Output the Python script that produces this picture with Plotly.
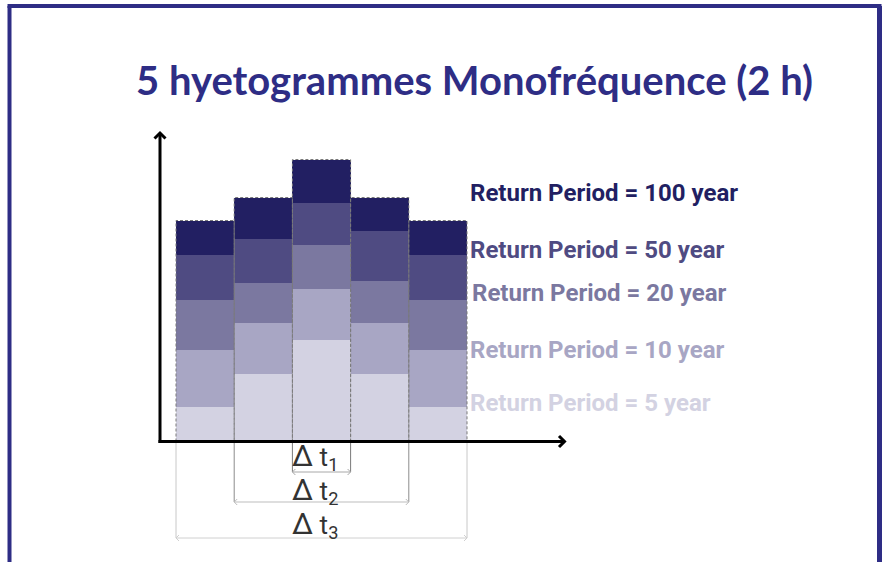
import plotly.graph_objects as go

# ---- data: rainfall depth per time step, one layer per return period ----
steps = [0, 1, 2, 3, 4]
periods = ["5", "10", "20", "50", "100"]
depth_5 = [3.5, 6.8, 10.2, 6.8, 3.5]
depth_10 = [5.7, 5.1, 5.1, 5.1, 5.7]
depth_20 = [5.0, 4.0, 4.4, 4.2, 5.0]
depth_50 = [4.5, 4.4, 4.2, 5.0, 4.5]
depth_100 = [3.4, 4.1, 4.3, 3.3, 3.4]
layers = [depth_5, depth_10, depth_20, depth_50, depth_100]
layer_colors = ["#d3d2e2", "#a8a6c4", "#7b78a0", "#4f4b82", "#221f62"]
label_text = ["Return Period = %s year" % p for p in periods]

# Duration spans (first, last step) labelled Δt1, Δt2, Δt3
spans = [(2, 2), (1, 3), (0, 4)]
span_names = ["1", "2", "3"]

W, H = 884, 562
# plot coordinates: one step = 58.2 px, one depth unit = 10 px
X0_PX, STEP_PX = 205.1, 58.2
Y0_PX, UNIT_PX = 441.5, 10.0


def xd(px):
    return (px - X0_PX) / STEP_PX


def yd(py):
    return (Y0_PX - py) / UNIT_PX


fig = go.Figure()

# stacked layers
for vals, col, p in zip(layers, layer_colors, periods):
    fig.add_trace(go.Bar(x=steps, y=vals, marker=dict(color=col, line=dict(width=0)),
                         width=1.0, name=p, showlegend=False, hoverinfo="skip"))

# dashed outline of each step
totals = [sum(v) for v in zip(*layers)]
ox, oy = [], []
for s, t in zip(steps, totals):
    ox += [s - 0.5, s - 0.5, s + 0.5, s + 0.5, None]
    oy += [0, t, t, 0, None]
fig.add_trace(go.Scatter(x=ox, y=oy, mode="lines", showlegend=False, hoverinfo="skip",
                         line=dict(color="#7a7a7a", width=1, dash="3px,2px")))

shapes = []
annos = []

# frame
FR = "#2e2d85"
shapes.append(dict(type="line", xref="paper", yref="paper", x0=9.5 / W, x1=9.5 / W,
                   y0=-0.05, y1=1 - 6 / H, line=dict(color=FR, width=4)))
shapes.append(dict(type="line", xref="paper", yref="paper", x0=879.5 / W, x1=879.5 / W,
                   y0=-0.05, y1=1 - 6 / H, line=dict(color=FR, width=5)))
shapes.append(dict(type="line", xref="paper", yref="paper", x0=7.5 / W, x1=881.5 / W,
                   y0=1 - 6 / H, y1=1 - 6 / H, line=dict(color=FR, width=4)))

# duration dimension lines
dim_v = ["#7a7a7a", "#8c8c8c", "#c8c8c8"]
dim_h = ["#a8a8a8", "#bdbdbd", "#d0d0d0"]
dim_y = [472, 502, 538]
for (a, b), cv, ch, py in zip(spans, dim_v, dim_h, dim_y):
    xa, xb = a - 0.5, b + 0.5
    for xx in (xa, xb):
        shapes.append(dict(type="line", x0=xx, x1=xx, y0=0, y1=yd(py),
                           line=dict(color=cv, width=1)))
    shapes.append(dict(type="line", x0=xa, x1=xb, y0=yd(py), y1=yd(py),
                       line=dict(color=ch, width=1)))
    # small open arrow tips
    dx = 3 / STEP_PX
    dy = 3 / UNIT_PX
    shapes.append(dict(type="path", path="M %f %f L %f %f L %f %f" % (
        xa + dx, yd(py) + dy, xa, yd(py), xa + dx, yd(py) - dy), line=dict(color=ch, width=1)))
    shapes.append(dict(type="path", path="M %f %f L %f %f L %f %f" % (
        xb - dx, yd(py) + dy, xb, yd(py), xb - dx, yd(py) - dy), line=dict(color=ch, width=1)))

# axes with arrows
shapes.append(dict(type="line", x0=xd(160), x1=xd(160), y0=yd(443), y1=yd(134),
                   line=dict(color="black", width=3)))
shapes.append(dict(type="line", x0=xd(158.5), x1=xd(563), y0=0, y1=0,
                   line=dict(color="black", width=3)))
shapes.append(dict(type="path", path="M %f %f L %f %f L %f %f" % (
    xd(154.5), yd(138.5), xd(160), yd(133), xd(165.5), yd(138.5)),
    line=dict(color="black", width=3)))
shapes.append(dict(type="path", path="M %f %f L %f %f L %f %f" % (
    xd(559), yd(436), xd(564.5), yd(441.5), xd(559), yd(447)),
    line=dict(color="black", width=3)))

# return period labels (top to bottom: 100 ... 5)
label_py = [192.5, 250, 293, 350, 403]
label_px = [468, 468, 470, 468, 468]
for j, (txt, col) in enumerate(zip(label_text[::-1], layer_colors[::-1])):
    annos.append(dict(x=xd(label_px[j]), y=yd(label_py[j]), text=txt, showarrow=False,
                      xanchor="left", yanchor="middle",
                      font=dict(family="Roboto", size=24, color=col, weight=700)))

# Δt labels
dt_py = [456, 490, 524]
for n, py in zip(span_names, dt_py):
    annos.append(dict(x=xd(290), y=yd(py),
                      text="<span style='font-size:30px'>Δ</span> t<sub>%s</sub>" % n,
                      showarrow=False, xanchor="left", yanchor="middle",
                      font=dict(family="Roboto", size=26, color="#333333")))

# title
annos.append(dict(x=474.5 / W, y=1 - 80 / H, xref="paper", yref="paper",
                  text="<b>5 hyetogrammes Monofréquence (2 h)</b>", showarrow=False,
                  xanchor="center", yanchor="middle",
                  font=dict(family="Lato", size=40, color="#2e2d85")))

fig.update_layout(
    width=W, height=H, margin=dict(l=0, r=0, t=0, b=0),
    paper_bgcolor="white", plot_bgcolor="white",
    barmode="stack", bargap=0,
    xaxis=dict(range=[xd(0), xd(W)], visible=False, fixedrange=True),
    yaxis=dict(range=[yd(H), yd(0)], visible=False, fixedrange=True),
    shapes=shapes, annotations=annos, showlegend=False,
)

fig.write_html("out.html")
